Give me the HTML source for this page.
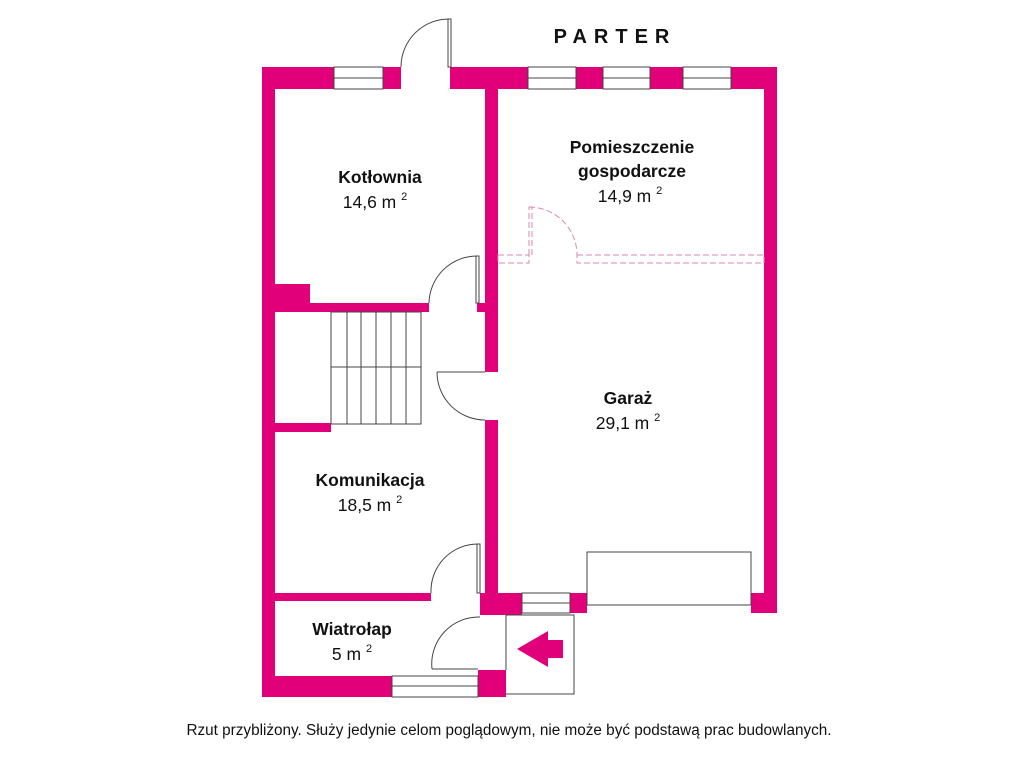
<!DOCTYPE html>
<html><head><meta charset="utf-8"><style>
html,body{margin:0;padding:0;background:#fff;}
svg{display:block}
text{font-family:"Liberation Sans",sans-serif;fill:#111}
.b{font-weight:bold;font-size:17.5px}
.n{font-size:17.5px}
.s{font-size:11px}
</style></head><body>
<svg width="1024" height="768" viewBox="0 0 1024 768" xmlns="http://www.w3.org/2000/svg">
<g fill="#e2007a">
<rect x="262" y="67" width="72" height="22"/>
<rect x="383" y="67" width="18" height="22"/>
<rect x="450" y="67" width="78" height="22"/>
<rect x="576" y="67" width="27" height="22"/>
<rect x="650" y="67" width="33" height="22"/>
<rect x="731" y="67" width="46" height="22"/>
<rect x="262" y="67" width="13" height="630"/>
<rect x="764" y="67" width="13" height="546"/>
<rect x="751" y="593" width="26" height="20"/>
<rect x="485" y="67" width="13" height="305"/>
<rect x="485" y="420" width="13" height="173"/>
<rect x="262" y="303" width="167" height="9"/>
<rect x="275" y="284" width="35" height="28"/>
<rect x="477" y="303" width="21" height="9"/>
<rect x="262" y="423" width="69" height="9"/>
<rect x="262" y="593" width="169" height="8"/>
<rect x="480" y="593" width="42" height="22"/>
<rect x="570" y="593" width="17" height="20"/>
<rect x="262" y="676" width="130" height="21"/>
<rect x="478" y="670" width="28" height="27"/>
<polygon points="517,649 548,631 548,640 563,640 563,658 548,658 548,667"/>
</g>
<g fill="none" stroke="#444" stroke-width="1">
<rect x="334" y="67" width="49" height="22"/><line x1="334" y1="78" x2="383" y2="78"/>
<rect x="528" y="67" width="48" height="22"/><line x1="528" y1="78" x2="576" y2="78"/>
<rect x="603" y="67" width="47" height="22"/><line x1="603" y1="78" x2="650" y2="78"/>
<rect x="683" y="67" width="48" height="22"/><line x1="683" y1="78" x2="731" y2="78"/>
<rect x="522" y="593" width="48" height="20"/><line x1="522" y1="603" x2="570" y2="603"/>
<rect x="392" y="676" width="86" height="21"/><line x1="392" y1="686" x2="478" y2="686"/>
<rect x="448" y="19" width="3" height="48"/>
<path d="M450,19 A48,48 0 0 0 401,67"/>
<rect x="476" y="256" width="3" height="47"/>
<path d="M477,256 A48,48 0 0 0 429,303"/>
<path d="M437,372 L485,372 M437,372 A48,48 0 0 0 485,420"/>
<rect x="477" y="544" width="3" height="49"/>
<path d="M478,544 A47,47 0 0 0 431,593"/>
<path d="M432,669 L478,669 M432,669 A47,47 0 0 1 480,617"/>
<path d="M506,615 L574,615 L574,694 L506,694 M506,615 L506,670"/>
<rect x="587" y="552" width="164" height="53"/>
<rect x="331" y="312" width="90" height="112"/>
<line x1="331" y1="367" x2="421" y2="367"/>
<line x1="347" y1="312" x2="347" y2="424"/>
<line x1="361" y1="312" x2="361" y2="424"/>
<line x1="376" y1="312" x2="376" y2="424"/>
<line x1="391" y1="312" x2="391" y2="424"/>
<line x1="406" y1="312" x2="406" y2="424"/>
</g>
<g fill="none" stroke="#d98ab3" stroke-width="1" stroke-dasharray="6,3">
<rect x="498" y="255" width="31" height="8"/>
<rect x="577" y="255" width="187" height="8"/>
<rect x="529" y="207" width="3" height="48"/>
<path d="M529,207 A48,48 0 0 1 577,255"/>
</g>
<text x="615" y="43" text-anchor="middle" style="font-size:20px;font-weight:bold;letter-spacing:7px" fill="#333">PARTER</text>
<text x="380" y="183" text-anchor="middle" class="b">Kotłownia</text>
<text x="375" y="208" text-anchor="middle" class="n">14,6 m <tspan class="s" dy="-8">2</tspan></text>
<text x="632" y="153" text-anchor="middle" class="b">Pomieszczenie</text>
<text x="632" y="177" text-anchor="middle" class="b">gospodarcze</text>
<text x="630" y="202" text-anchor="middle" class="n">14,9 m <tspan class="s" dy="-8">2</tspan></text>
<text x="628" y="404" text-anchor="middle" class="b">Garaż</text>
<text x="628" y="429" text-anchor="middle" class="n">29,1 m <tspan class="s" dy="-8">2</tspan></text>
<text x="370" y="486" text-anchor="middle" class="b">Komunikacja</text>
<text x="370" y="511" text-anchor="middle" class="n">18,5 m <tspan class="s" dy="-8">2</tspan></text>
<text x="352" y="635" text-anchor="middle" class="b">Wiatrołap</text>
<text x="352" y="660" text-anchor="middle" class="n">5 m <tspan class="s" dy="-8">2</tspan></text>
<text x="509" y="735" text-anchor="middle" style="font-size:15.3px">Rzut przybliżony. Służy jedynie celom poglądowym, nie może być podstawą prac budowlanych.</text>
</svg>
</body></html>
